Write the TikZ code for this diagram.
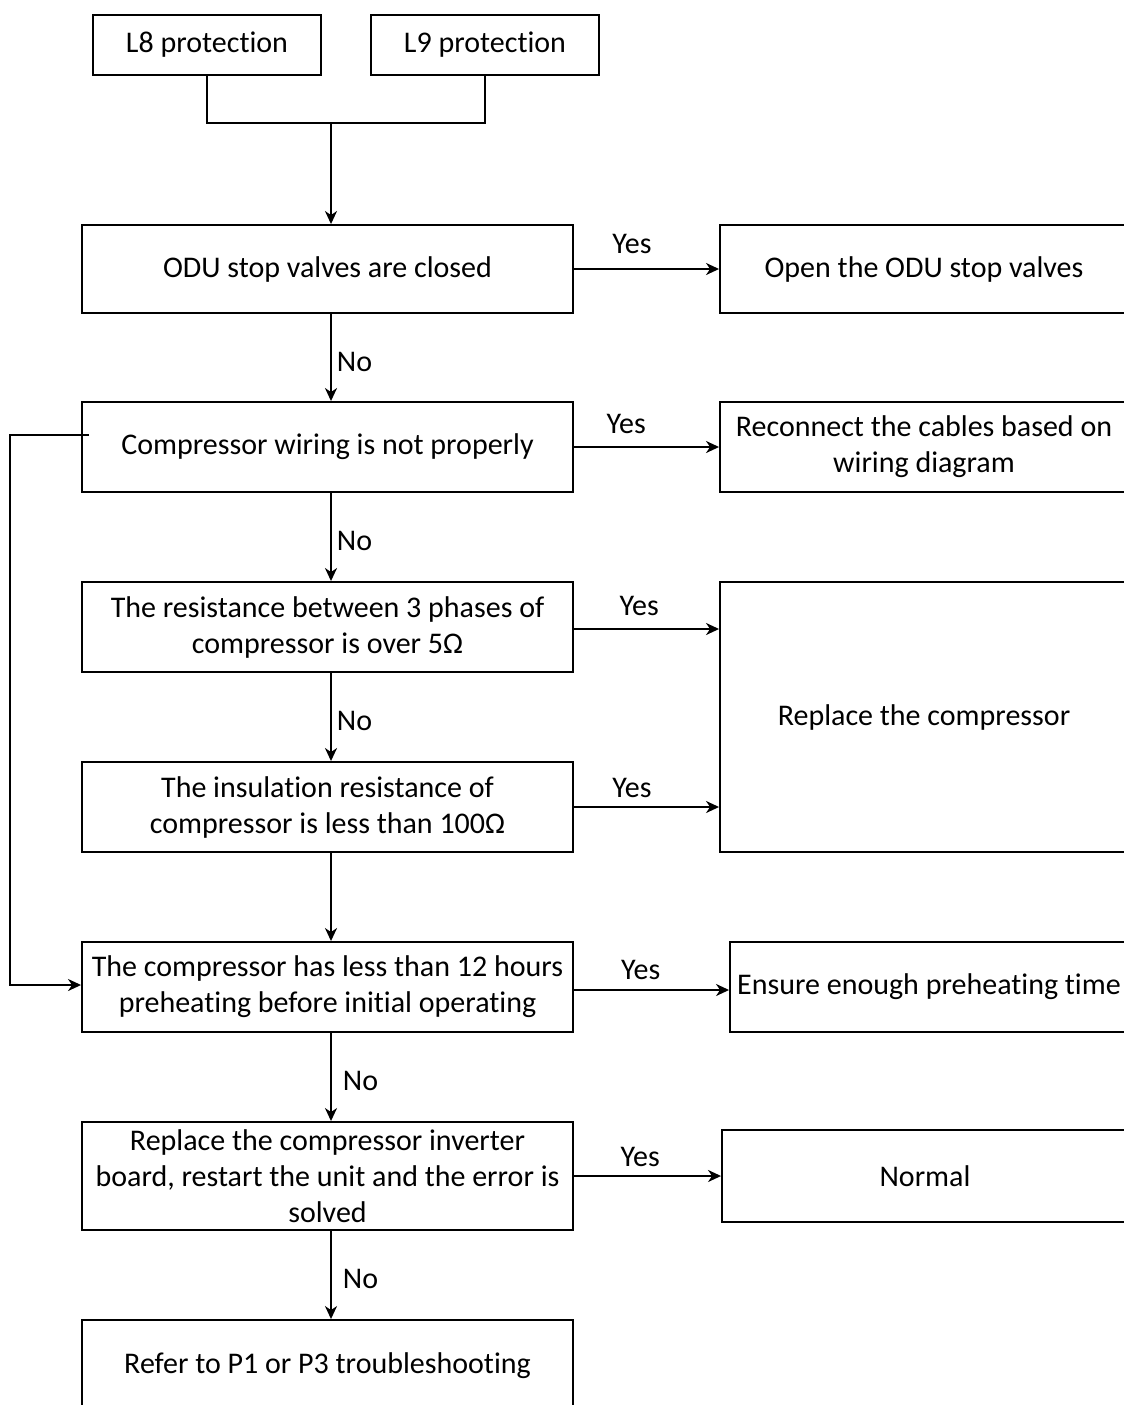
\documentclass[tikz,border=0pt]{standalone}
\usepackage{fontspec}
\setmainfont{Carlito}[Ligatures={NoCommon}]
\usetikzlibrary{arrows.meta,calc}
\begin{document}
\begin{tikzpicture}[x=1pt,y=-1pt,
  box/.style={draw,line width=1.9pt,rectangle,inner sep=0pt,align=center,
    font=\fontsize{30}{36}\selectfont},
  conn/.style={line width=1.9pt},
  arr/.style={line width=1.9pt,-{Stealth[length=13pt,width=12pt,inset=4pt]}},
  lbl/.style={font=\fontsize{30}{34}\selectfont,inner sep=0pt}]
\useasboundingbox (0,0) rectangle (1124,1405);
\clip (0,0) rectangle (1124,1405);
% left column
\node[box,minimum width=228,minimum height=60] (l8) at (207,45) {L8 protection};
\node[box,minimum width=228,minimum height=60] (l9) at (485,45) {L9 protection};
\node[box,minimum width=491,minimum height=88] (odu) at (327.5,269) {ODU stop valves are closed};
\node[box,minimum width=491,minimum height=90] (wir) at (327.5,447) {Compressor wiring is not properly};
\node[box,minimum width=491,minimum height=90] (res) at (327.5,627) {The resistance between 3 phases of\\compressor is over 5Ω};
\node[box,minimum width=491,minimum height=90] (ins) at (327.5,807) {The insulation resistance of\\compressor is less than 100Ω};
\node[box,minimum width=491,minimum height=90] (pre) at (327.5,987) {The compressor has less than 12 hours\\preheating before initial operating};
\node[box,minimum width=491,minimum height=108] (inv) at (327.5,1176) {Replace the compressor inverter\\board, restart the unit and the error is\\solved};
\node[box,minimum width=491,minimum height=92] (ref) at (327.5,1366) {Refer to P1 or P3 troubleshooting};
% right column
\node[box,minimum width=408,minimum height=88] (open) at (924,269) {Open the ODU stop valves};
\node[box,minimum width=408,minimum height=90] (rec) at (924,447) {Reconnect the cables based on\\wiring diagram};
\node[box,minimum width=408,minimum height=270] (rep) at (924,717) {Replace the compressor};
\node[box,minimum width=398,minimum height=90] (ens) at (929,987) {Ensure enough preheating time};
\node[box,minimum width=406,minimum height=92] (nor) at (925,1176) {Normal};
% top join
\coordinate (j) at (331,123);
\draw[conn] (l8.south) |- (j);
\draw[conn] (l9.south) |- (j);
\draw[arr] (j) -- (j |- odu.north);
% vertical No arrows
\draw[arr] ([xshift=3.5pt]odu.south) -- node[lbl,right=5pt,pos=0.55]{No} ([xshift=3.5pt]wir.north);
\draw[arr] ([xshift=3.5pt]wir.south) -- node[lbl,right=5pt,pos=0.55]{No} ([xshift=3.5pt]res.north);
\draw[arr] ([xshift=3.5pt]res.south) -- node[lbl,right=5pt,pos=0.55]{No} ([xshift=3.5pt]ins.north);
\draw[arr] ([xshift=3.5pt]ins.south) -- ([xshift=3.5pt]pre.north);
\draw[arr] ([xshift=3.5pt]pre.south) -- node[lbl,right=11pt,pos=0.55]{No} ([xshift=3.5pt]inv.north);
\draw[arr] ([xshift=3.5pt]inv.south) -- node[lbl,right=11pt,pos=0.55]{No} ([xshift=3.5pt]ref.north);
% horizontal Yes arrows
\draw[arr] (odu.east) -- node[lbl,above=14pt,pos=0.4]{Yes} (odu.east -| open.west);
\draw[arr] (wir.east) -- node[lbl,above=12pt,pos=0.36]{Yes} (wir.east -| rec.west);
\draw[arr] ([yshift=-2pt]res.east) -- node[lbl,above=12pt,pos=0.45]{Yes} ([yshift=-2pt]res.east -| rep.west);
\draw[arr] (ins.east) -- node[lbl,above=8pt,pos=0.4]{Yes} (ins.east -| rep.west);
\draw[arr] ([yshift=-3pt]pre.east) -- node[lbl,above=9pt,pos=0.43]{Yes} ([yshift=-3pt]pre.east -| ens.west);
\draw[arr] (inv.east) -- node[lbl,above=8pt,pos=0.45]{Yes} (inv.east -| nor.west);
% left loop
\coordinate (lp) at (10,435);
\draw[arr] ([xshift=8pt,yshift=12pt]wir.west) -- (lp) |- ([yshift=2pt]pre.west);
\end{tikzpicture}
\end{document}
